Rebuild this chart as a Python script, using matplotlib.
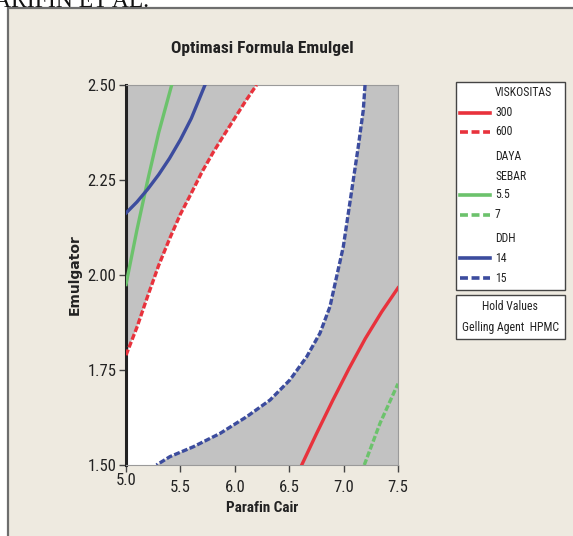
import numpy as np
import matplotlib
matplotlib.use("Agg")
import matplotlib.pyplot as plt
from matplotlib import font_manager
from matplotlib.patches import Rectangle
from matplotlib.lines import Line2D
from matplotlib.transforms import ScaledTranslation

# contour lines of the overlaid response surfaces (Parafin Cair, Emulgator)
visko_300_x = [6.615, 6.750, 6.900, 7.050, 7.200, 7.350, 7.500]
visko_300_y = [1.500, 1.582, 1.670, 1.754, 1.833, 1.903, 1.966]
visko_600_x = [5.000, 5.100, 5.200, 5.300, 5.400, 5.500, 5.600, 5.700, 5.800, 5.900, 6.000, 6.100, 6.200]
visko_600_y = [1.789, 1.862, 1.945, 2.025, 2.095, 2.160, 2.215, 2.272, 2.322, 2.368, 2.413, 2.458, 2.500]
sebar_55_x = [5.000, 5.100, 5.200, 5.300, 5.420]
sebar_55_y = [1.975, 2.118, 2.250, 2.374, 2.500]
sebar_7_x = [7.190, 7.335, 7.500]
sebar_7_y = [1.500, 1.610, 1.714]
ddh_14_x = [5.000, 5.100, 5.200, 5.300, 5.400, 5.500, 5.600, 5.726]
ddh_14_y = [2.163, 2.192, 2.226, 2.264, 2.307, 2.356, 2.412, 2.500]
ddh_15_x = [7.197, 7.181, 7.135, 7.089, 7.043, 6.997, 6.936, 6.875, 6.783, 6.661, 6.507,
            6.324, 6.109, 5.864, 5.619, 5.404, 5.280]
ddh_15_y = [2.500, 2.434, 2.338, 2.250, 2.162, 2.074, 1.996, 1.917, 1.847, 1.785, 1.724,
            1.671, 1.627, 1.583, 1.548, 1.522, 1.500]

x_ticks = [5.0, 5.5, 6.0, 6.5, 7.0, 7.5]
y_ticks = [1.50, 1.75, 2.00, 2.25, 2.50]

red = "#e8323c"
green = "#6cc26c"
blue = "#3c4c9e"
bg = "#eeeae0"

# pick a narrow sans if one is installed
names = {f.name for f in font_manager.fontManager.ttflist}
narrow_name = "Liberation Sans"
for cand in ["Liberation Sans Narrow", "DejaVu Sans Condensed", "Roboto Condensed",
             "Open Sans Condensed", "Noto Sans Condensed"]:
    if cand in names:
        narrow_name = cand
        break
narrow = [narrow_name, "DejaVu Sans"]
stretch = "condensed"

fig = plt.figure(figsize=(5.73, 5.36), dpi=100, facecolor="white")

# panel frame
fig.patches.append(Rectangle((7.5 / 573, -0.05), 1.2, 1.05 - 7.5 / 536,
                             transform=fig.transFigure, facecolor=bg,
                             edgecolor="#6e6e6e", lw=1.6, zorder=-5))
fig.text(-6 / 573, 1 - 7 / 536, "ARIFIN ET AL.", family="Liberation Serif",
         fontsize=17, va="baseline", ha="left", color="#111111")

ax = fig.add_axes([126 / 573, 71 / 536, 272 / 573, 380 / 536])
ax.set_facecolor("#c2c2c2")

# feasible (white) region between the dashed contours
wx = [5.0] + visko_600_x + ddh_15_x + [5.0]
wy = [1.5] + visko_600_y + ddh_15_y + [1.5]
ax.fill(wx, wy, color="white", lw=0, zorder=1)

dash = (1.8, 0.7)
kw = dict(lw=2.4, zorder=3, solid_joinstyle="round", dash_joinstyle="round")
ax.plot(visko_300_x, visko_300_y, color=red, **kw)
ax.plot(visko_600_x, visko_600_y, color=red, dashes=dash, **kw)
ax.plot(sebar_55_x, sebar_55_y, color=green, **kw)
ax.plot(sebar_7_x, sebar_7_y, color=green, dashes=dash, **kw)
ax.plot(ddh_14_x, ddh_14_y, color=blue, **kw)
ax.plot(ddh_15_x, ddh_15_y, color=blue, dashes=dash, **kw)

ax.set_xlim(5.0, 7.5)
ax.set_ylim(1.5, 2.5)
ax.set_xticks(x_ticks)
ax.set_xticklabels([f"{v:.1f}" for v in x_ticks], family=narrow, stretch=stretch,
                   fontsize=12, color="#222222")
ax.set_yticks(y_ticks)
ax.set_yticklabels([f"{v:.2f}" for v in y_ticks], family=narrow, stretch=stretch,
                   fontsize=12, color="#222222")
ax.tick_params(direction="out", length=5, width=1, color="#444444")
ax.tick_params(axis="x", pad=6)
ax.tick_params(axis="y", pad=2)

# first x label sits a bit higher
first = ax.get_xticklabels()[0]
first.set_transform(first.get_transform() + ScaledTranslation(0, 7 / 100, fig.dpi_scale_trans))

for s in ["top", "right", "bottom"]:
    ax.spines[s].set_color("#9a9a9a")
    ax.spines[s].set_linewidth(0.8)
ax.spines["left"].set_color("#222222")
ax.spines["left"].set_linewidth(2.2)

ax.set_xlabel("Parafin Cair", family=narrow, stretch=stretch, fontsize=11,
              fontweight="bold", color="#222222", labelpad=4)
ax.set_ylabel("Emulgator", fontsize=10, fontweight="bold", color="#222222", labelpad=4)
ax.set_title("Optimasi Formula Emulgel", family=narrow, stretch=stretch, fontsize=12.5,
             fontweight="bold", color="#222222", pad=23)

# legend panel
lx0, lx1 = 455.5 / 573, 565 / 573
fig.patches.append(Rectangle((lx0, 1 - 290 / 536), lx1 - lx0, (290 - 82) / 536,
                             transform=fig.transFigure, facecolor="white",
                             edgecolor="#444444", lw=1))
fig.patches.append(Rectangle((lx0, 1 - 339 / 536), lx1 - lx0, (339 - 295) / 536,
                             transform=fig.transFigure, facecolor="white",
                             edgecolor="#444444", lw=1))

entries = [
    ("VISKOSITAS", None, None, 93),
    ("300", red, None, 113),
    ("600", red, dash, 132),
    ("DAYA", None, None, 157),
    ("SEBAR", None, None, 176),
    ("5.5", green, None, 195),
    ("7", green, dash, 214.5),
    ("DDH", None, None, 238),
    ("14", blue, None, 258),
    ("15", blue, dash, 278),
]
for label, col, ls, py in entries:
    yy = 1 - py / 536
    fig.text(495 / 573, yy, label, family=narrow, stretch=stretch, fontsize=8.5,
             va="center", ha="left", color="#222222")
    if col is not None:
        ln = Line2D([460 / 573, 490 / 573], [yy, yy], transform=fig.transFigure,
                    color=col, lw=2.6)
        if ls is not None:
            ln.set_dashes((2.2, 1.0))
        fig.lines.append(ln)

fig.text(510 / 573, 1 - 307 / 536, "Hold Values", family=narrow, stretch=stretch,
         fontsize=8.5, va="center", ha="center", color="#222222")
fig.text(510 / 573, 1 - 327 / 536, "Gelling Agent  HPMC", family=narrow, stretch=stretch,
         fontsize=8.5, va="center", ha="center", color="#222222")

fig.savefig("out.png", dpi=100, facecolor=fig.get_facecolor())
